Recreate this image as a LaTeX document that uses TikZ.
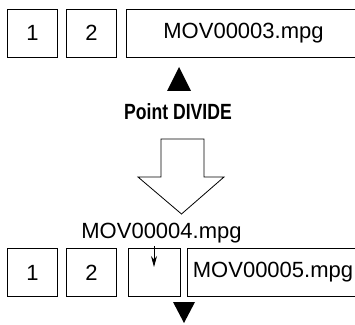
\documentclass[tikz,border=0pt]{standalone}
\usepackage{fontspec}
\setmainfont{Liberation Sans}
\newfontfamily\condfont[FakeStretch=0.8]{Liberation Sans}
\usetikzlibrary{arrows.meta}

\begin{document}
\begin{tikzpicture}[x=1pt,y=1pt,font=\fontsize{22}{26}\selectfont,
    clip box/.style={draw,line width=.8pt,inner sep=0pt,
      minimum width=50pt,minimum height=48pt},
    wide box/.style={clip box,minimum width=#1}]
    \useasboundingbox (0,0) rectangle (355,324);
    \clip (0,0) rectangle (355,324);

    % before dividing
    \node[clip box] (ta) at (32.5,291) {1};
    \node[clip box] (tb) at (91.5,291) {2};
    \node[wide box=235pt] (tc) at (243.5,291) {MOV00003.mpg};
    \fill (167,233) -- (179,257) -- (191,233) -- cycle;
    \node[font=\fontsize{22}{26}\condfont\bfseries] (point) at (178,212)
      {Point DIVIDE};

    % big arrow
    \draw[line width=.8pt] (161,185) -- (204,185) -- (204,147) -- (224,147)
      -- (181.5,110) -- (138,147) -- (161,147) -- cycle;

    % after dividing
    \node (newname) at (161.5,91) {MOV00004.mpg};
    \node[clip box] (ba) at (32.5,51.5) {1};
    \node[clip box] (bb) at (91.5,51.5) {2};
    \node[clip box,minimum width=52pt] (bc) at (154,51.5) {};
    \node[wide box=172pt] (bd) at (273,51.5) {MOV00005.mpg};
    \coordinate (tip) at (154,57);
    \draw[line width=.8pt,-{Stealth[length=11pt,width=6pt]}]
      (newname.south -| tip) -- (tip);
    \fill (173,22) -- (184,1) -- (195,22) -- cycle;
  \end{tikzpicture}
\end{document}
